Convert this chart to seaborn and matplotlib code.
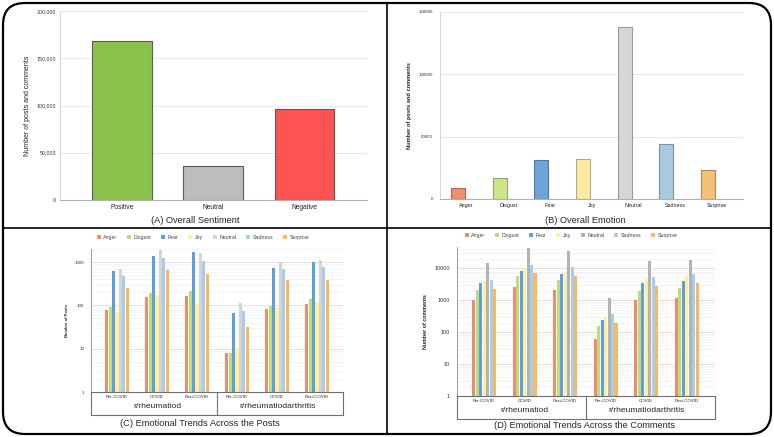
import numpy as np
import pandas as pd
import matplotlib
matplotlib.use("Agg")
import matplotlib.pyplot as plt
import matplotlib.ticker as mticker
from matplotlib.patches import FancyBboxPatch
from matplotlib.lines import Line2D
import matplotlib.colors as mcolors
import seaborn as sns

sns.set_theme(style="white")
plt.rcParams['font.family'] = ['Liberation Sans', 'DejaVu Sans']

# ---- data ----
sentiments = ['Positive', 'Neutral', 'Negative']
sentiment_counts = [168000, 36500, 96000]

emotions = ['Anger', 'Disgust', 'Fear', 'Joy', 'Neutral', 'Sadness', 'Surprise']
emotion_counts = [8600, 16600, 31000, 31800, 138000, 43900, 23000]

subreddits = ['r/rheumatiod', 'r/rheumatiodarthritis']
periods = ['Pre-COVID', 'COVID', 'Post-COVID']

# rows: rheumatiod pre/covid/post, rheumatiodarthritis pre/covid/post ; cols: emotions
post_counts = [
    [80, 90, 622, 69, 703, 486, 254],
    [152, 195, 1397, 172, 1849, 1232, 656],
    [161, 209, 1663, 105, 1650, 1070, 520],
    [8.1, 8, 68, 10.4, 111, 73, 31],
    [84, 98, 717, 87, 1000, 690, 387],
    [107, 142, 1000, 121, 1130, 767, 387],
]
comment_counts = [
    [1020, 2110, 3540, 3900, 15000, 4400, 2270],
    [2690, 5600, 8050, 10500, 44000, 12400, 7300],
    [2110, 4200, 6800, 6960, 35000, 10700, 5600],
    [60, 162, 245, 310, 1150, 385, 196],
    [1050, 2000, 3540, 4620, 17400, 5490, 2750],
    [1200, 2430, 3900, 5600, 19000, 6650, 3380],
]

sent_colors = ['#8bc34a', '#bdbdbd', '#ff5252']
emo_colors_b = ['#f0906e', '#cce68a', '#6fa5d9', '#fdeba4', '#d6d6d6', '#a9cbe1', '#f4c07a']
emo_colors_c = ['#f08a6c', '#b9de7a', '#5f9ddb', '#ffeda0', '#d4d4d4', '#a8cde8', '#f8b862']
emo_colors_d = ['#f08a6c', '#b9de7a', '#5f9ddb', '#ffeda0', '#b3b3b3', '#a8cde8', '#f8b862']

W, H = 774, 437
fig = plt.figure(figsize=(W / 100, H / 100), dpi=100)


def frac(x0, y0, x1, y1):
    return [x0 / W, 1 - y1 / H, (x1 - x0) / W, (y1 - y0) / H]


grid_c = '#e4e4e4'
txt_c = '#333333'

# ---- (A) ----
axA = fig.add_axes(frac(60, 11, 367, 200))
sns.barplot(x=sentiments, y=sentiment_counts, hue=sentiments, palette=sent_colors,
            legend=False, width=0.65, saturation=1, edgecolor='#5a5a5a', linewidth=0.8, ax=axA)
axA.set_ylim(0, 200000)
axA.set_xlim(-0.68, 2.69)
axA.set_yticks(range(0, 200001, 50000))
axA.yaxis.set_major_formatter(mticker.FuncFormatter(lambda v, _: f'{int(v):,}'))
axA.tick_params(axis='y', labelsize=3.8, length=0, pad=3, colors=txt_c)
axA.tick_params(axis='x', labelsize=4.8, length=0, pad=3, colors='#222222')
axA.set_ylabel('Number of posts and comments', fontsize=5, color='#222222', labelpad=4)
axA.set_xlabel('')
axA.yaxis.grid(True, color=grid_c, lw=0.6)
axA.set_axisbelow(True)
for s in ['top', 'right']:
    axA.spines[s].set_visible(False)
axA.spines['left'].set_color('#d0d0d0')
axA.spines['bottom'].set_color('#b0b0b0')
axA.spines['left'].set_linewidth(0.6)
axA.spines['bottom'].set_linewidth(0.8)
fig.text(195 / W, 1 - 220 / H, '(A) Overall Sentiment', ha='center', va='center', fontsize=6.7)

# ---- (B) ----
axB = fig.add_axes(frac(440, 12, 743, 199))
sns.barplot(x=emotions, y=emotion_counts, hue=emotions, palette=emo_colors_b,
            legend=False, width=0.34, saturation=1, linewidth=0.8, ax=axB)
for p, c in zip(axB.patches, emo_colors_b):
    p.set_x(p.get_x() - 0.21)
    p.set_edgecolor(tuple(v * 0.72 for v in mcolors.to_rgb(c)))
axB.set_ylim(0, 150000)
axB.set_xlim(-0.64, 6.63)
axB.set_yticks(range(0, 150001, 50000))
axB.yaxis.set_major_formatter(mticker.FuncFormatter(lambda v, _: f'{int(v)}'))
axB.tick_params(axis='y', labelsize=3.2, length=0, pad=5, colors=txt_c)
axB.tick_params(axis='x', labelsize=3.9, length=0, pad=3, colors='#222222')
axB.set_ylabel('Number of posts and comments', fontsize=4.1, fontweight='bold',
               color='#222222', labelpad=5)
axB.yaxis.grid(True, color=grid_c, lw=0.6)
axB.set_axisbelow(True)
for s in ['top', 'right']:
    axB.spines[s].set_visible(False)
axB.spines['left'].set_color('#d0d0d0')
axB.spines['bottom'].set_color('#b0b0b0')
axB.spines['left'].set_linewidth(0.6)
axB.spines['bottom'].set_linewidth(0.8)
fig.text(585 / W, 1 - 220 / H, '(B) Overall Emotion', ha='center', va='center', fontsize=6.7)


# ---- (C) and (D) ----
def trend_panel(rect, counts, colors, ylim, xlim, ylabel, ytick_size, ylabel_size,
                legend_xy, title, title_xy, row2_y, box_y, lpad):
    ax = fig.add_axes(rect)
    keys = [f'{s}|{p}' for s in subreddits for p in periods]
    df = pd.DataFrame({
        'group': np.repeat(keys, len(emotions)),
        'emotion': emotions * len(keys),
        'count': np.array(counts, dtype=float).ravel(),
    })
    sns.barplot(data=df, x='group', y='count', hue='emotion', order=keys,
                hue_order=emotions, palette=colors, width=0.6, gap=0.1,
                saturation=1, linewidth=0, ax=ax)
    ax.set_yscale('log')
    ax.set_ylim(*ylim)
    ax.set_xlim(*xlim)
    ax.yaxis.set_major_locator(mticker.LogLocator(base=10))
    ax.yaxis.set_minor_locator(mticker.LogLocator(base=10, subs=np.arange(2, 10)))
    ax.yaxis.set_major_formatter(mticker.FuncFormatter(lambda v, _: f'{v:g}'))
    ax.yaxis.set_minor_formatter(mticker.NullFormatter())
    ax.grid(True, which='major', axis='y', color='#dcdcdc', lw=0.6)
    ax.grid(True, which='minor', axis='y', color='#f0f0f0', lw=0.5)
    ax.set_axisbelow(True)
    ax.set_xticks(range(len(keys)))
    ax.set_xticklabels([k.split('|')[1] for k in keys])
    ax.tick_params(axis='x', labelsize=3.2, length=0, pad=2.5, colors='#222222')
    ax.tick_params(axis='y', which='both', labelsize=ytick_size, length=0, pad=5, colors=txt_c)
    ax.set_xlabel('')
    ax.set_ylabel(ylabel, fontsize=ylabel_size, fontweight='bold', color='#222222', labelpad=lpad)
    for s in ['top', 'right']:
        ax.spines[s].set_visible(False)
    ax.spines['left'].set_color('#9a9a9a')
    ax.spines['bottom'].set_color('#707070')
    ax.spines['left'].set_linewidth(0.7)
    ax.spines['bottom'].set_linewidth(0.8)
    # grouping table below the axis
    box = dict(transform=ax.transAxes, clip_on=False, color='#707070', lw=0.8)
    for xf in (0, 0.5, 1):
        ax.add_line(Line2D([xf, xf], [0, box_y], **box))
    ax.add_line(Line2D([0, 1], [box_y, box_y], **box))
    tr = ax.get_xaxis_transform()
    for i, s in enumerate(subreddits):
        ax.text(1 + 3 * i, row2_y, s, transform=tr, ha='center', va='center', fontsize=6.1)
    sns.move_legend(ax, 'center', bbox_to_anchor=legend_xy, bbox_transform=fig.transFigure,
                    ncol=7, frameon=False, title=None, fontsize=3.8, handlelength=0.75,
                    handleheight=0.75, handletextpad=0.45, columnspacing=1.9)
    for t in ax.get_legend().get_texts():
        t.set_color('#444444')
    fig.text(title_xy[0], title_xy[1], title, ha='center', va='center', fontsize=6.7)
    return ax


trend_panel(frac(91, 249, 343, 392), post_counts, emo_colors_c, (1, 2000), (-0.65, 5.65),
            'Number of Posts', 3.2, 3.0, (203 / W, 1 - 237.7 / H),
            '(C) Emotional Trends Across the Posts', (200 / W, 1 - 424 / H),
            -0.103, -0.161, 4)
trend_panel(frac(457, 247, 715, 396), comment_counts, emo_colors_d, (1, 47000), (-0.67, 5.7),
            'Number of comments', 3.9, 3.8, (571 / W, 1 - 235 / H),
            '(D) Emotional Trends Across the Comments', (585 / W, 1 - 425.7 / H),
            -0.10, -0.152, 5)

# ---- outer frame and dividers ----
fig.add_artist(FancyBboxPatch((3, 3), W - 6, H - 6, boxstyle='round,pad=0,rounding_size=22',
                              transform=None, fill=False, ec='black', lw=1.6))
fig.add_artist(Line2D([387 / W, 387 / W], [3 / H, 1 - 3 / H], color='black', lw=1.2))
fig.add_artist(Line2D([3 / W, 1 - 3 / W], [1 - 228 / H, 1 - 228 / H], color='black', lw=1.2))

fig.savefig('out.png', dpi=100)
